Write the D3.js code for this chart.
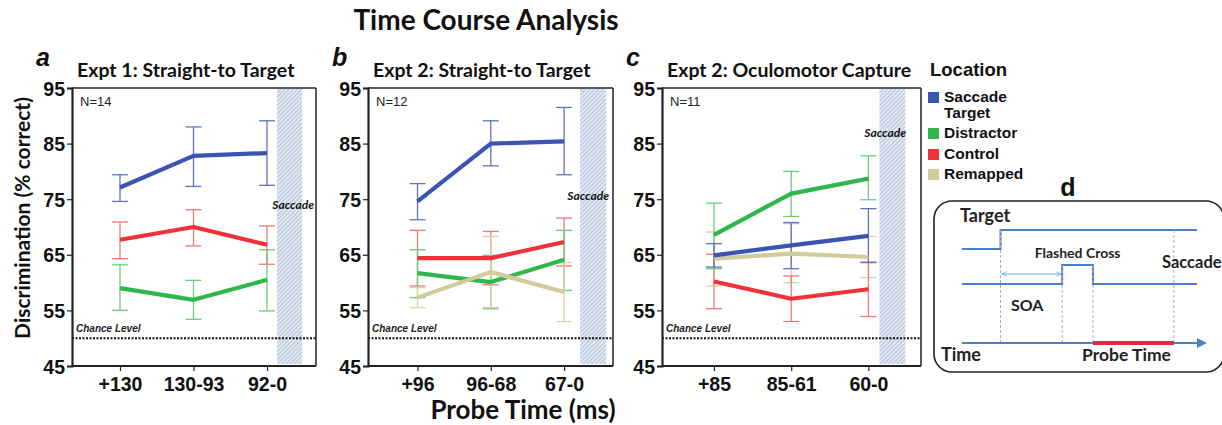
<!DOCTYPE html>
<html><head><meta charset="utf-8">
<script src="https://cdn.jsdelivr.net/npm/d3@7"></script>
<style>
html,body{margin:0;padding:0;background:#fff;}
svg{display:block;}
</style>
</head><body>
<svg id="chart" width="1222" height="425"></svg>
<script>
// ---------- data ----------
const mainTitle = "Time Course Analysis";
const xAxisTitle = "Probe Time (ms)";
const yAxisTitle = "Discrimination (% correct)";
const panelLetters = ["a", "b", "c"];
const panelTitles = ["Expt 1: Straight-to Target", "Expt 2: Straight-to Target", "Expt 2: Oculomotor Capture"];
const sampleSizes = ["N=14", "N=12", "N=11"];
const yTicks = [45, 55, 65, 75, 85, 95];
const chanceLevel = 50;
const seriesNames = ["Saccade Target", "Distractor", "Control", "Remapped"];

const categoriesA = ["+130", "130-93", "92-0"];
const categoriesB = ["+96", "96-68", "67-0"];
const categoriesC = ["+85", "85-61", "60-0"];

const targetA = [77.1, 82.8, 83.3];
const targetLoA = [74.6, 77.3, 77.5];
const targetHiA = [79.4, 88.0, 89.1];
const distractorA = [59.0, 56.9, 60.5];
const distractorLoA = [55.0, 53.4, 54.9];
const distractorHiA = [63.2, 60.4, 65.9];
const controlA = [67.7, 70.0, 66.8];
const controlLoA = [64.3, 66.6, 63.3];
const controlHiA = [70.9, 73.1, 70.2];

const targetB = [74.6, 85.0, 85.4];
const targetLoB = [71.3, 81.0, 79.4];
const targetHiB = [77.8, 89.1, 91.5];
const distractorB = [61.7, 60.1, 64.1];
const distractorLoB = [57.3, 55.3, 58.6];
const distractorHiB = [65.9, 64.9, 69.4];
const controlB = [64.4, 64.4, 67.3];
const controlLoB = [59.4, 59.6, 63.0];
const controlHiB = [69.4, 69.2, 71.6];
const remappedB = [57.3, 61.9, 58.3];
const remappedLoB = [55.5, 55.5, 53.0];
const remappedHiB = [59.1, 68.3, 63.6];

const targetC = [64.9, 66.7, 68.4];
const targetLoC = [62.8, 62.5, 63.6];
const targetHiC = [67.0, 70.8, 73.3];
const distractorC = [68.6, 76.0, 78.7];
const distractorLoC = [62.5, 71.9, 74.9];
const distractorHiC = [74.3, 80.0, 82.8];
const controlC = [60.2, 57.1, 58.8];
const controlLoC = [55.3, 53.0, 53.9];
const controlHiC = [65.1, 61.2, 63.7];
const remappedC = [64.3, 65.2, 64.6];
const remappedLoC = [59.4, 60.0, 60.9];
const remappedHiC = [69.1, 70.6, 68.3];

// schematic (panel d) event times, arbitrary units
const schemEvents = {start: 0, target: 1, flashOn: 2.6, flashOff: 3.4, saccade: 5.5, end: 6.1, arrowEnd: 6.2};

// ---------- styles ----------
const lineColors = {"Saccade Target": "#3b54b3", "Distractor": "#2eb84b", "Control": "#ef3238", "Remapped": "#d2cb9b"};
const errColors  = {"Saccade Target": "#6072c2", "Distractor": "#6ccb7f", "Control": "#f0777a", "Remapped": "#d8d2a6"};
const legendColors = {"Saccade Target": "#3c55b1", "Distractor": "#33b44d", "Control": "#ec353b", "Remapped": "#d1cb9d"};

const svg = d3.select("#chart");
const defs = svg.append("defs");
const pat = defs.append("pattern").attr("id", "hatch").attr("patternUnits", "userSpaceOnUse")
  .attr("width", 3).attr("height", 3).attr("patternTransform", "rotate(45)");
pat.append("rect").attr("width", 3).attr("height", 3).attr("fill", "#e3e9f3");
pat.append("line").attr("x1", 0).attr("y1", 0).attr("x2", 0).attr("y2", 3)
  .attr("stroke", "#8199c6").attr("stroke-width", 1.0);

const titleFont = "Lato, 'Open Sans', sans-serif";
const arialFont = "'Liberation Sans', Arial, sans-serif";

// main title
svg.append("text").attr("x", 486).attr("y", 30).attr("text-anchor", "middle")
  .attr("font-family", titleFont).attr("font-weight", 700).attr("font-size", 28).attr("fill", "#111")
  .text(mainTitle);

const y = d3.scaleLinear().domain([45, 95]).range([366, 88]);

const panels = [
  {cats: categoriesA, left: 72, right: 316, pad: 48, step: 73.5, hatch: [10, 35], sacc: {x: 314, y: 209},
   series: [
     {name: "Control", v: controlA, lo: controlLoA, hi: controlHiA},
     {name: "Distractor", v: distractorA, lo: distractorLoA, hi: distractorHiA},
     {name: "Saccade Target", v: targetA, lo: targetLoA, hi: targetHiA}
   ]},
  {cats: categoriesB, left: 368, right: 613, pad: 49.5, step: 73.3, hatch: [16, 42], sacc: {x: 609, y: 200},
   series: [
     {name: "Control", v: controlB, lo: controlLoB, hi: controlHiB},
     {name: "Distractor", v: distractorB, lo: distractorLoB, hi: distractorHiB},
     {name: "Remapped", v: remappedB, lo: remappedLoB, hi: remappedHiB},
     {name: "Saccade Target", v: targetB, lo: targetLoB, hi: targetHiB}
   ]},
  {cats: categoriesC, left: 662, right: 921, pad: 52, step: 77.2, hatch: [11, 37], sacc: {x: 906, y: 137},
   series: [
     {name: "Remapped", v: remappedC, lo: remappedLoC, hi: remappedHiC},
     {name: "Control", v: controlC, lo: controlLoC, hi: controlHiC},
     {name: "Distractor", v: distractorC, lo: distractorLoC, hi: distractorHiC},
     {name: "Saccade Target", v: targetC, lo: targetLoC, hi: targetHiC}
   ]}
];

panels.forEach((p, pi) => {
  const x = d3.scalePoint().domain(p.cats)
    .range([p.left + p.pad, p.left + p.pad + p.step * (p.cats.length - 1)]);
  const g = svg.append("g");
  const lastX = x(p.cats[p.cats.length - 1]);

  // panel letter and title
  g.append("text").attr("x", p.left - 36).attr("y", 66)
    .attr("font-family", arialFont).attr("font-weight", 700).attr("font-style", "italic")
    .attr("font-size", 25).attr("fill", "#111").text(panelLetters[pi]);
  g.append("text").attr("x", p.left + 5).attr("y", 77)
    .attr("font-family", titleFont).attr("font-weight", 700).attr("font-size", 19.5).attr("fill", "#111")
    .text(panelTitles[pi]);

  // saccade hatch band
  g.append("rect").attr("x", lastX + p.hatch[0]).attr("y", y(95) + 1)
    .attr("width", p.hatch[1] - p.hatch[0]).attr("height", y(45) - y(95) - 3)
    .attr("fill", "url(#hatch)");
  g.append("text").attr("x", p.sacc.x).attr("y", p.sacc.y).attr("text-anchor", "end")
    .attr("font-family", titleFont).attr("font-weight", 700).attr("font-style", "italic")
    .attr("font-size", 12).attr("fill", "#111").text("Saccade");

  // chance level
  g.append("line").attr("x1", p.left).attr("x2", p.right).attr("y1", y(chanceLevel)).attr("y2", y(chanceLevel))
    .attr("stroke", "#111").attr("stroke-width", 2).attr("stroke-dasharray", "2,1.5");
  g.append("text").attr("x", p.left + 4).attr("y", y(chanceLevel) - 6)
    .attr("font-family", arialFont).attr("font-style", "italic").attr("font-weight", 700)
    .attr("font-size", 10).attr("fill", "#222").text("Chance Level");

  // N label
  g.append("text").attr("x", p.left + 8).attr("y", y(95) + 18)
    .attr("font-family", arialFont).attr("font-size", 13).attr("fill", "#222").text(sampleSizes[pi]);

  // error bars
  p.series.forEach(s => {
    const eg = g.append("g").attr("stroke", errColors[s.name]).attr("stroke-width", 1.3).attr("fill", "none");
    p.cats.forEach((c, i) => {
      const cx = x(c);
      eg.append("line").attr("x1", cx).attr("x2", cx).attr("y1", y(s.lo[i])).attr("y2", y(s.hi[i]));
      eg.append("line").attr("x1", cx - 8).attr("x2", cx + 8).attr("y1", y(s.lo[i])).attr("y2", y(s.lo[i]));
      eg.append("line").attr("x1", cx - 8).attr("x2", cx + 8).attr("y1", y(s.hi[i])).attr("y2", y(s.hi[i]));
    });
  });
  // lines
  const line = d3.line().x((d, i) => x(p.cats[i])).y(d => y(d));
  p.series.forEach(s => {
    g.append("path").datum(s.v).attr("d", line).attr("fill", "none")
      .attr("stroke", lineColors[s.name]).attr("stroke-width", 4.2).attr("stroke-linejoin", "round");
  });

  // frame
  g.append("line").attr("x1", p.left).attr("x2", p.right).attr("y1", y(95)).attr("y2", y(95))
    .attr("stroke", "#222").attr("stroke-width", 1.5);
  g.append("line").attr("x1", p.right).attr("x2", p.right).attr("y1", y(95)).attr("y2", y(45))
    .attr("stroke", "#222").attr("stroke-width", 1.5);

  // axes
  const ya = g.append("g").attr("transform", `translate(${p.left},0)`)
    .call(d3.axisLeft(y).tickValues(yTicks).tickSize(5).tickPadding(2));
  ya.select(".domain").attr("stroke", "#222").attr("stroke-width", 2.2);
  ya.selectAll(".tick line").attr("stroke", "#222").attr("stroke-width", 1.2);
  ya.selectAll("text").attr("font-family", arialFont).attr("font-weight", 700).attr("font-size", 19.5)
    .attr("fill", "#111").attr("dy", "0.36em");

  const xa = g.append("g").attr("transform", `translate(0,${y(45)})`)
    .call(d3.axisBottom(x).tickSize(5).tickPadding(6));
  xa.select(".domain").attr("d", `M${p.left},0H${p.right}`).attr("stroke", "#222").attr("stroke-width", 2.2);
  xa.selectAll(".tick line").attr("stroke", "#222").attr("stroke-width", 1.2);
  xa.selectAll("text").attr("font-family", arialFont).attr("font-weight", 700).attr("font-size", 19.5)
    .attr("fill", "#111");
});

// axis titles
svg.append("text").attr("transform", "translate(30,218) rotate(-90)").attr("text-anchor", "middle")
  .attr("font-family", titleFont).attr("font-weight", 700).attr("font-size", 21).attr("fill", "#111")
  .text(yAxisTitle);
svg.append("text").attr("x", 523).attr("y", 419).attr("text-anchor", "middle")
  .attr("font-family", titleFont).attr("font-weight", 700).attr("font-size", 26).attr("fill", "#111")
  .text(xAxisTitle);

// legend
const lg = svg.append("g").attr("transform", "translate(928,0)");
lg.append("text").attr("x", 2).attr("y", 76).attr("font-family", arialFont).attr("font-weight", 700)
  .attr("font-size", 18.5).attr("fill", "#111").text("Location");
const legendRows = [
  {name: "Saccade Target", lines: ["Saccade", "Target"], y: 97},
  {name: "Distractor", lines: ["Distractor"], y: 133},
  {name: "Control", lines: ["Control"], y: 154},
  {name: "Remapped", lines: ["Remapped"], y: 174}
];
legendRows.forEach(r => {
  lg.append("rect").attr("x", 0).attr("y", r.y - 5).attr("width", 11).attr("height", 11)
    .attr("fill", legendColors[r.name]);
  r.lines.forEach((t, k) => {
    lg.append("text").attr("x", 16).attr("y", r.y + 5 + k * 16).attr("font-family", arialFont)
      .attr("font-weight", 700).attr("font-size", 15.5).attr("fill", "#111").text(t);
  });
});

// panel d schematic
const dg = svg.append("g");
dg.append("text").attr("x", 1068).attr("y", 196).attr("text-anchor", "middle").attr("font-family", arialFont)
  .attr("font-weight", 700).attr("font-size", 25).attr("fill", "#111").text("d");
dg.append("rect").attr("x", 934).attr("y", 201).attr("width", 290).attr("height", 171).attr("rx", 18)
  .attr("fill", "#fff").attr("stroke", "#222").attr("stroke-width", 1.6);
const tx = d3.scaleLinear().domain([schemEvents.start, schemEvents.end]).range([962, 1197]);
const blue = "#4a7fc6";
const yT0 = 249, yT1 = 230, yF0 = 284, yF1 = 265, yAxis = 343;
dg.append("path").attr("fill", "none").attr("stroke", blue).attr("stroke-width", 2)
  .attr("d", `M${tx(schemEvents.start)},${yT0}H${tx(schemEvents.target)}V${yT1}H${tx(schemEvents.end)}`);
dg.append("path").attr("fill", "none").attr("stroke", blue).attr("stroke-width", 2)
  .attr("d", `M${tx(schemEvents.start)},${yF0}H${tx(schemEvents.flashOn)}V${yF1}H${tx(schemEvents.flashOff)}V${yF0}H${tx(schemEvents.end)}`);
[schemEvents.target, schemEvents.flashOn, schemEvents.flashOff, schemEvents.saccade].forEach(t => {
  dg.append("line").attr("x1", tx(t)).attr("x2", tx(t))
    .attr("y1", (t === schemEvents.saccade || t === schemEvents.target) ? yT1 : yF1)
    .attr("y2", yAxis).attr("stroke", "#9fb0cc").attr("stroke-width", 1).attr("stroke-dasharray", "3,2");
});
// SOA arrow
defs.append("marker").attr("id", "ah").attr("viewBox", "0 0 10 10").attr("refX", 9).attr("refY", 5)
  .attr("markerWidth", 6).attr("markerHeight", 6).attr("orient", "auto-start-reverse")
  .append("path").attr("d", "M0,1L9,5L0,9").attr("fill", "none").attr("stroke", "#7fa2d6").attr("stroke-width", 1.2);
dg.append("line").attr("x1", tx(schemEvents.target) + 1).attr("x2", tx(schemEvents.flashOn) - 1)
  .attr("y1", 274).attr("y2", 274).attr("stroke", "#7fa2d6").attr("stroke-width", 1)
  .attr("marker-start", "url(#ah)").attr("marker-end", "url(#ah)");
// time axis
defs.append("marker").attr("id", "ah2").attr("viewBox", "0 0 10 10").attr("refX", 8).attr("refY", 5)
  .attr("markerWidth", 5).attr("markerHeight", 5).attr("orient", "auto")
  .append("path").attr("d", "M0,0L10,5L0,10Z").attr("fill", blue);
dg.append("line").attr("x1", tx(schemEvents.start)).attr("x2", tx(schemEvents.arrowEnd) + 4)
  .attr("y1", yAxis).attr("y2", yAxis).attr("stroke", blue).attr("stroke-width", 2).attr("marker-end", "url(#ah2)");
dg.append("line").attr("x1", tx(schemEvents.flashOff)).attr("x2", tx(schemEvents.saccade))
  .attr("y1", yAxis).attr("y2", yAxis).attr("stroke", "#d9303c").attr("stroke-width", 4);
const dtext = (x, yy, t, fs, anchor) => dg.append("text").attr("x", x).attr("y", yy).attr("text-anchor", anchor || "start")
  .attr("font-family", titleFont).attr("font-weight", 700).attr("font-size", fs).attr("fill", "#222").text(t);
dtext(960, 222, "Target", 18);
dtext(tx((schemEvents.flashOn + schemEvents.flashOff) / 2), 258, "Flashed Cross", 14, "middle");
dtext(1162, 268, "Saccade", 16.5);
dtext(1011, 311, "SOA", 16);
dtext(941, 361, "Time", 18);
dtext(1082, 361, "Probe Time", 17.5);
</script>
</body></html>
